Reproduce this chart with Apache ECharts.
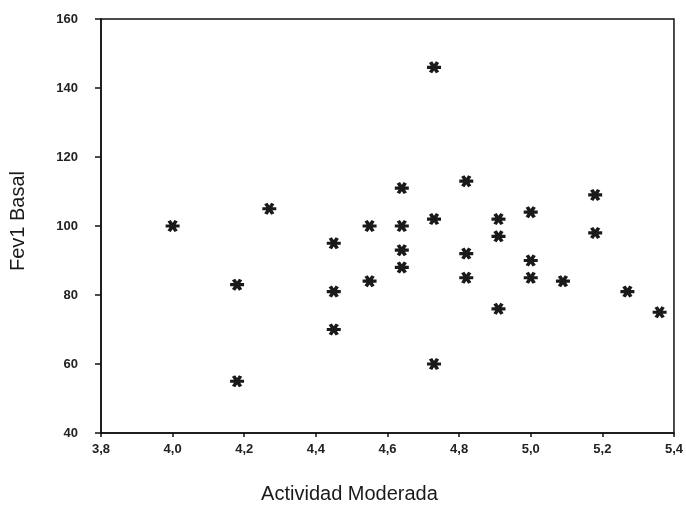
<!DOCTYPE html>
<html>
<head>
<meta charset="utf-8">
<script src="https://cdn.jsdelivr.net/npm/echarts@6/dist/echarts.min.js"></script>
<style>
html,body{margin:0;padding:0;background:#fff;}
#chart{width:686px;height:509px;}
</style>
</head>
<body>
<div id="chart"></div>
<script>
// Data
const actividad = [4.00, 4.18, 4.18, 4.27, 4.45, 4.45, 4.45, 4.55, 4.55, 4.64, 4.64, 4.64, 4.64, 4.73, 4.73, 4.73, 4.82, 4.82, 4.82, 4.91, 4.91, 4.91, 5.00, 5.00, 5.00, 5.09, 5.18, 5.18, 5.27, 5.36];
const fev1 = [100, 83, 55, 105, 95, 81, 70, 100, 84, 111, 100, 93, 88, 146, 102, 60, 113, 92, 85, 102, 97, 76, 104, 90, 85, 84, 109, 98, 81, 75];
const xTicks = [3.8, 4.0, 4.2, 4.4, 4.6, 4.8, 5.0, 5.2, 5.4];
const yTicks = [40, 60, 80, 100, 120, 140, 160];
const xTitle = 'Actividad Moderada';
const yTitle = 'Fev1 Basal';

const points = actividad.map((x, i) => [x, fev1[i]]);

const asterisk = 'path://M-6,-1.6L6,-1.6L6,1.6L-6,1.6Z' +
  'M4.386,4.396L1.614,5.996L-4.386,-4.396L-1.614,-5.996Z' +
  'M-1.614,5.996L-4.386,4.396L1.614,-5.996L4.386,-4.396Z';

const font = 'Liberation Sans, Arial, sans-serif';
const chart = echarts.init(document.getElementById('chart'), null, {renderer: 'canvas'});
chart.setOption({
  animation: false,
  backgroundColor: '#ffffff',
  grid: {left: 100, right: 7, top: 19, bottom: 74, show: true, borderColor: '#111', borderWidth: 1.5, backgroundColor: 'transparent'},
  xAxis: {
    type: 'value', min: xTicks[0], max: xTicks[xTicks.length - 1], interval: 0.2,
    name: xTitle, nameLocation: 'middle', nameGap: 51,
    nameTextStyle: {fontFamily: font, fontSize: 20, color: '#1a1a1a', padding: [0, 76, 0, 0]},
    axisLine: {show: true, lineStyle: {color: '#111', width: 1.5}},
    axisTick: {show: true, length: 4, lineStyle: {color: '#111', width: 1.5}},
    axisLabel: {fontFamily: font, fontSize: 13, fontWeight: 'bold', color: '#222', margin: 10,
      formatter: v => v.toFixed(1).replace('.', ',')},
    splitLine: {show: false}
  },
  yAxis: {
    type: 'value', min: yTicks[0], max: yTicks[yTicks.length - 1], interval: 20,
    name: yTitle, nameLocation: 'middle', nameGap: 73, nameRotate: 90,
    nameTextStyle: {fontFamily: font, fontSize: 20, color: '#1a1a1a', padding: [0, 0, 0, 10]},
    axisLine: {show: true, lineStyle: {color: '#111', width: 1.5}},
    axisTick: {show: true, length: 6, lineStyle: {color: '#111', width: 1.5}},
    axisLabel: {fontFamily: font, fontSize: 13, fontWeight: 'bold', color: '#222', margin: 23},
    splitLine: {show: false}
  },
  series: [{
    type: 'scatter',
    data: points,
    symbol: asterisk,
    symbolSize: [14, 12],
    itemStyle: {color: '#1a1a1a', opacity: 1}
  }]
});
</script>
</body>
</html>
